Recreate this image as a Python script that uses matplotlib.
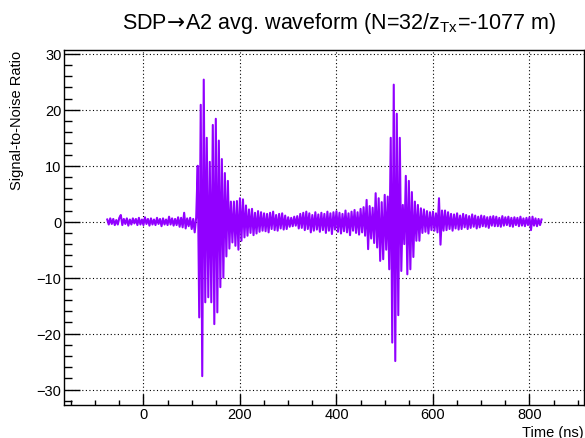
import numpy as np
import matplotlib.pyplot as plt
from matplotlib.ticker import MultipleLocator

plt.rcParams["font.family"] = ["Liberation Sans", "DejaVu Sans"]
plt.rcParams["mathtext.fontset"] = "custom"
plt.rcParams["mathtext.rm"] = "Liberation Sans"
plt.rcParams["mathtext.sf"] = "DejaVu Sans"

# sampling of the averaged waveform (ns)
T_START = -75.0
T_STEP = 3.125

# signal-to-noise values, one list per stretch of the trace
snr_pre = [
    0.4, -0.5, 0.6, -0.4, 0.5, -0.6, 0.3, -0.5, 0.7, 1.2,
    -0.6, 0.5, -0.4, 0.6, -0.7, 0.4, -0.5, 0.6, -0.3, 0.5,
    -0.6, 0.7, -0.5, 0.4, -0.6, 0.8, -0.4, 0.5, -0.7, 0.6,
    -0.5, 0.4, -0.6, 0.7, -0.4, 0.5, -0.8, 0.6, -0.5, 0.4,
    -0.6, 0.9, -0.5, 0.6, -0.7, 0.5, -0.6, 0.8, -0.9, 0.7,
    -1.0, 1.6, -1.2, 0.6, -0.8, 0.7, -1.3, 0.5, -1.9, 0.8,
]
snr_pulse1 = [
    10.0, -17.1, 20.9, -27.6, 25.4, -14.4, 15.0, -13.5, 10.7, -14.4,
    17.3, -18.3, 18.4, -16.2, 14.5, -11.7, 11.2, -10.0, 8.7, -6.2,
    7.3, -4.8, 3.6, -3.7, 3.6, -4.3, 3.7, -5.0, 4.2, -3.4,
    4.0, -2.8, 2.9, -2.5, 2.2, -2.0, 2.3, -2.4, 1.6, -2.1,
    1.9, -1.8, 1.7, -1.6,
]
snr_mid = [
    1.5, -1.7, 1.4, -1.9, 1.6, -1.3, 1.8, -1.5, 1.2, -1.6,
    1.4, -1.2, 1.5, -1.4, 1.1, -1.3, 0.8, -0.9, 0.7, -0.8,
    0.9, -0.7, 1.0, -1.2, 1.4, -1.1, 1.6, -1.5, 1.8, -1.3,
    1.5, -1.9, 1.2, -1.6, 1.7, -1.4, 1.3, -1.8, 1.6, -1.5,
    1.4, -2.0, 1.8, -1.6, 1.5, -2.2, 1.7, -1.4, 1.9, -1.8,
    1.6, -2.1, 1.4, -1.7, 2.0, -1.9, 1.5, -2.4, 1.8, -1.6,
    2.1, -2.0, 1.7, -2.3, 2.3, -1.9, 2.6, -2.5, 3.9, -4.9,
    2.8, -3.0,
]
snr_pulse2 = [
    2.5, -3.8, 5.1, -4.6, 4.2, -7.0, 3.5, -6.7, 4.8, -5.0,
    4.5, -8.5, 15.0, -21.6, 24.5, -24.9, 19.3, -16.7, 15.0, -8.8,
    3.0, -4.0, 8.2, -9.4, 7.3, -8.5, 5.3, -6.3, 3.6, -3.4,
    3.0, -3.4,
]
snr_tail = [
    2.4, -2.0, 2.2, -1.8, 1.9, -2.1, 1.7, -1.5, 1.8, -1.6,
    1.5, -1.9, 4.2, -4.1, 2.0, -1.6, 2.0, -1.5, 1.7, -1.3,
    1.4, -1.6, 1.3, -1.2, 1.5, -1.4, 1.1, -1.3, 1.4, -1.0,
    1.2, -1.3, 1.0, -1.1, 1.3, -0.9, 1.1, -1.2, 0.9, -1.0,
    1.1, -0.8, 1.0, -0.9, 0.8, -1.1, 0.9, -0.7, 1.0, -0.8,
    0.9, -0.8, 0.7, -0.9, 1.0, -0.7, 0.8, -0.6, 0.9, -0.8,
    0.7, -0.9, 0.8, -0.6, 0.7, -0.8, 0.9, -0.7, 0.6, -0.8,
    0.7, -0.6, 0.8, -1.5, 0.9, -0.7, 0.6, -0.8, 0.5, -0.6,
    0.4,
]

snr = np.array(snr_pre + snr_pulse1 + snr_mid + snr_pulse2 + snr_tail)
time = T_START + T_STEP * np.arange(len(snr))

fig = plt.figure(figsize=(5.85, 4.39), dpi=100)
ax = fig.add_axes([0.1099, 0.0759, 0.8884, 0.808])

ax.plot(time, snr, color="#9100ff", lw=1.5)

ax.set_xlim(-164, 913)
ax.set_ylim(-32.7, 30.7)
ax.xaxis.set_major_locator(MultipleLocator(200))
ax.xaxis.set_minor_locator(MultipleLocator(50))
ax.yaxis.set_major_locator(MultipleLocator(10))
ax.yaxis.set_minor_locator(MultipleLocator(2))

ax.tick_params(axis="both", which="both", direction="in", top=False, right=False,
               width=1.0, labelsize=10.5)
ax.tick_params(axis="x", which="major", length=7.6, pad=1.5)
ax.tick_params(axis="x", which="minor", length=3.8)
ax.tick_params(axis="y", which="major", length=11.2, pad=2)
ax.tick_params(axis="y", which="minor", length=5.6)
for side in ax.spines.values():
    side.set_linewidth(1.0)

ax.grid(True, which="major", color="black", lw=0.8, linestyle=(0, (1, 2.2)))
ax.set_axisbelow(True)

ax.set_xlabel("Time (ns)", fontsize=10.5, loc="right")
ax.xaxis.set_label_coords(1.0, -0.058)
ax.set_ylabel("Signal-to-Noise Ratio", fontsize=10.5, loc="top")
ax.yaxis.set_label_coords(-0.078, 1.0)

fig.text(0.58, 0.935,
         "SDP$\\!\\mathsf{\\rightarrow}\\!$A2 avg. waveform (N=32/z$_{\\mathrm{Tx}}$=-1077 m)",
         ha="center", va="baseline", fontsize=15.5)

fig.savefig("out.png", dpi=100)
